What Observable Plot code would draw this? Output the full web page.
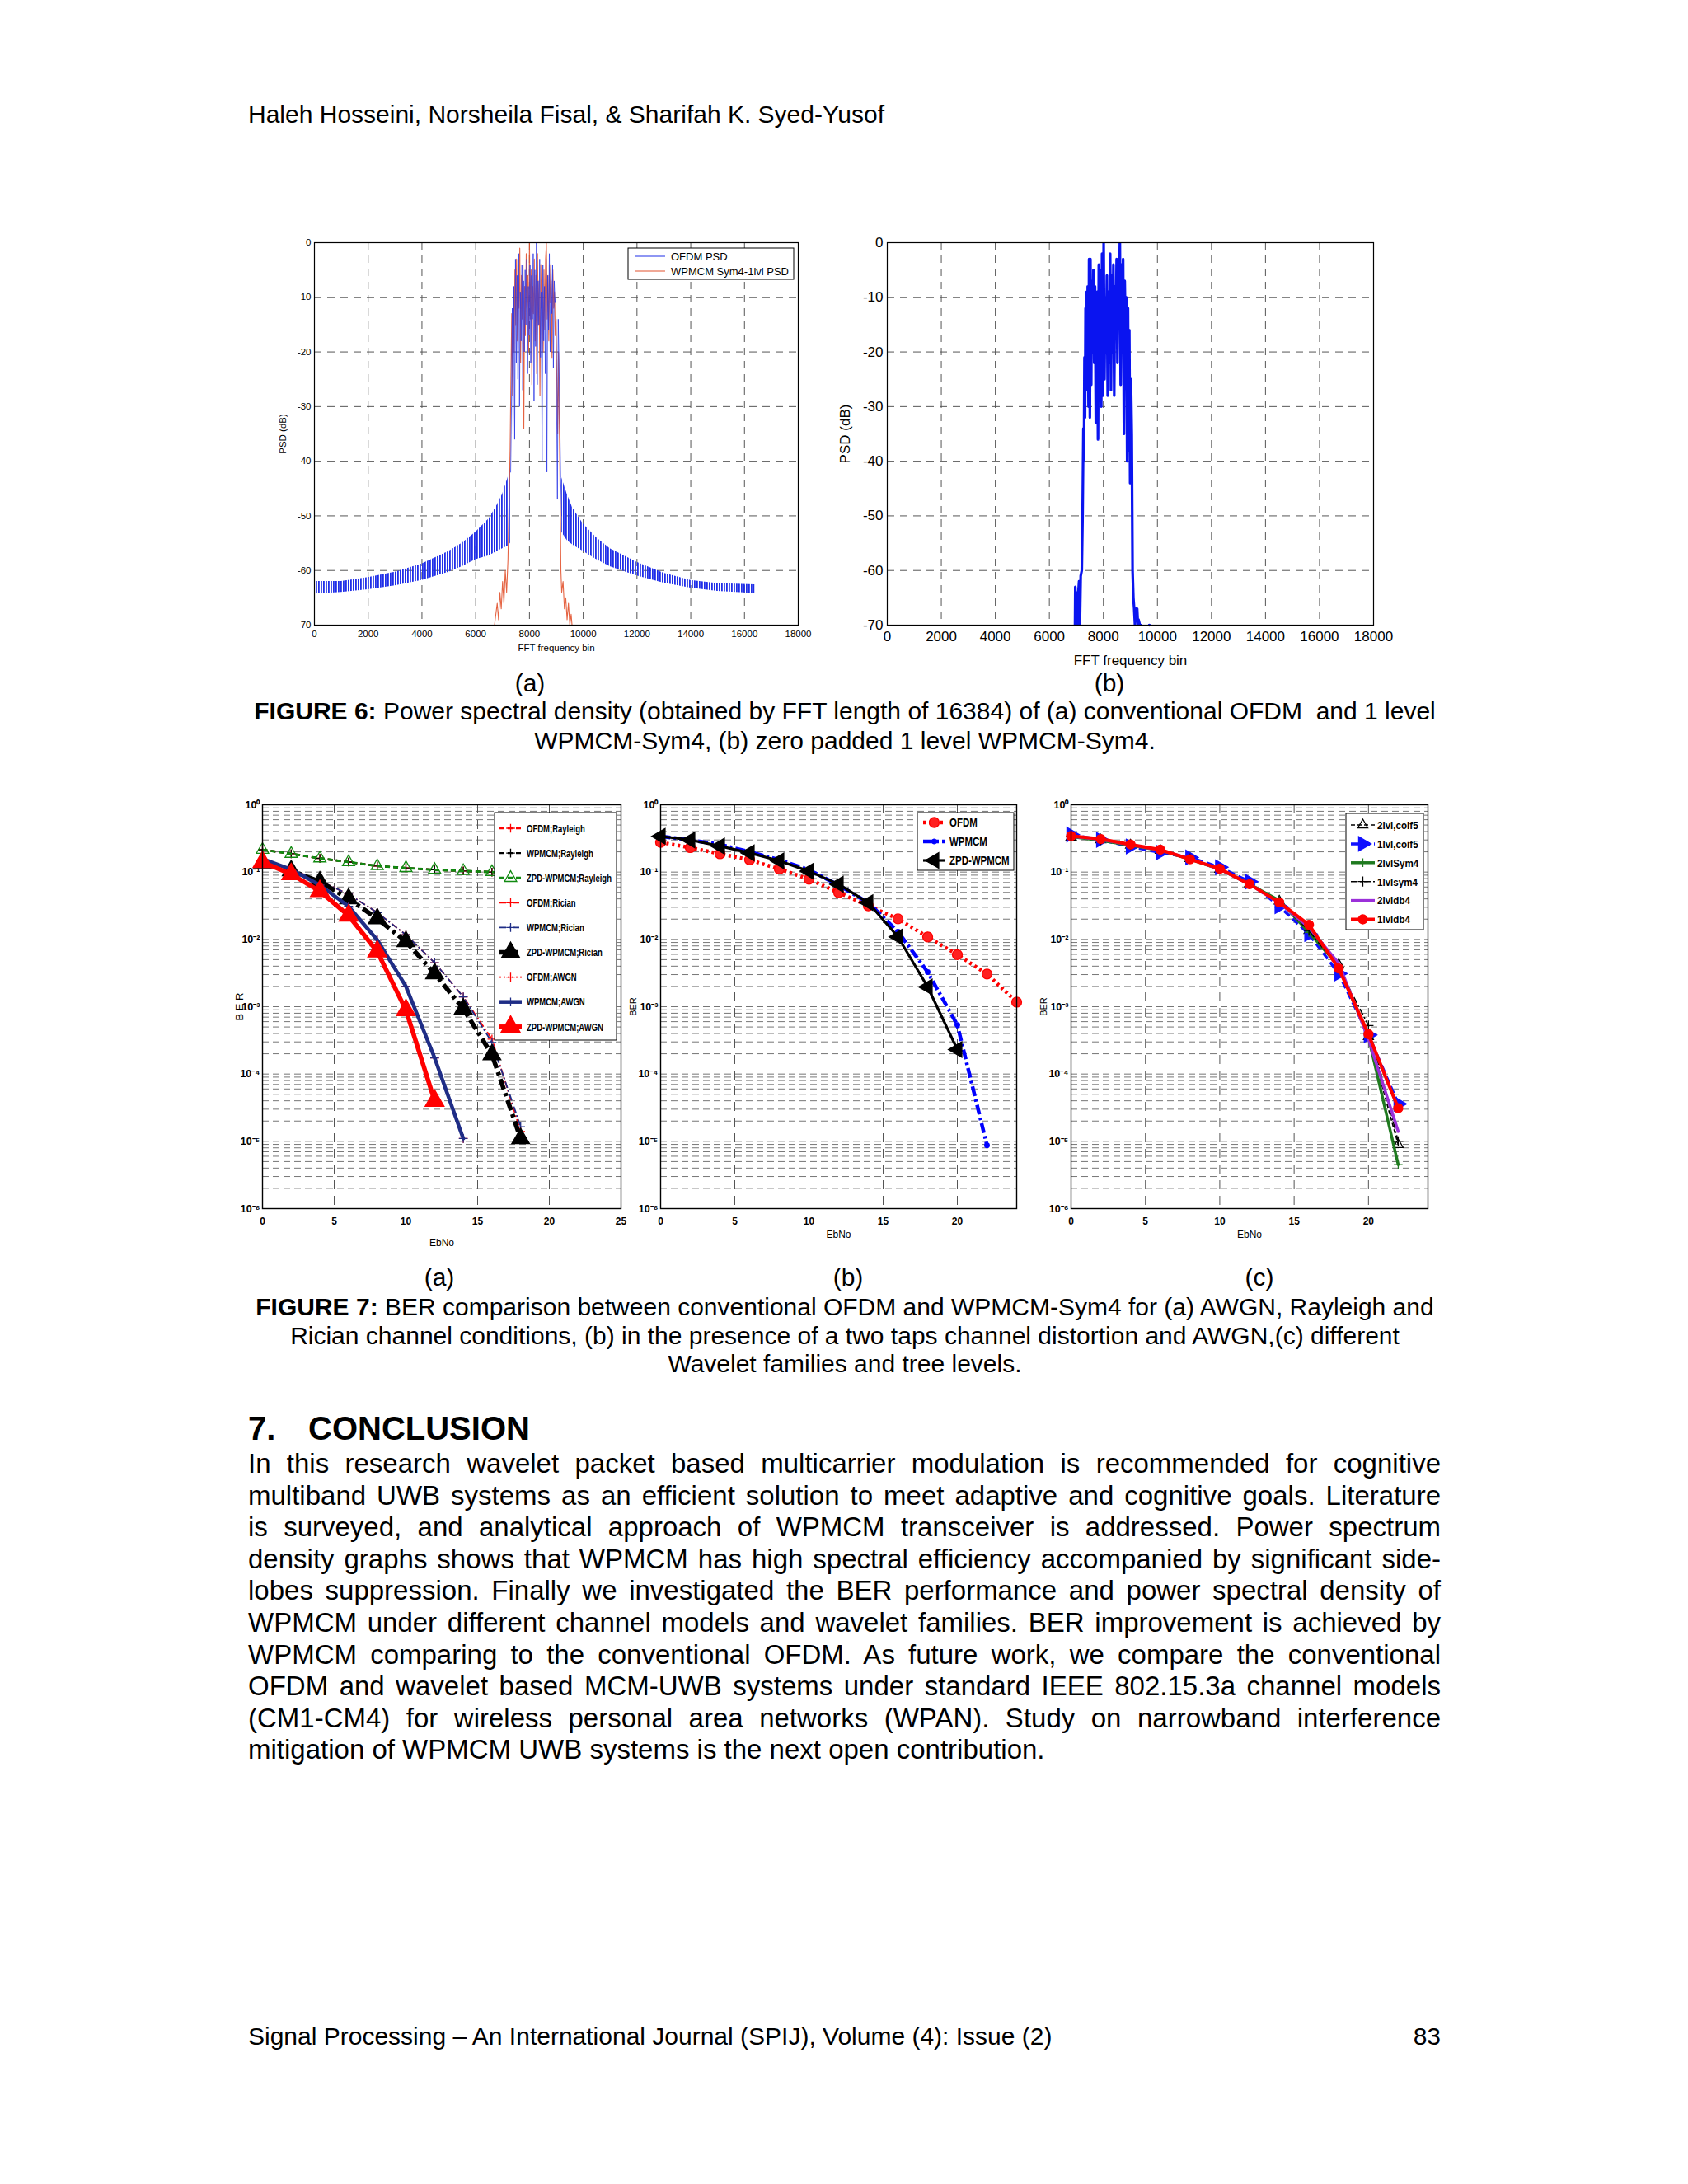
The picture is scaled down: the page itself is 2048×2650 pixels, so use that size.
<!DOCTYPE html>
<html><head><meta charset="utf-8">
<script src="https://cdn.jsdelivr.net/npm/d3@7"></script>
<script src="https://cdn.jsdelivr.net/npm/@observablehq/plot@0.6"></script>
<style>
html,body{margin:0;padding:0;background:#fff;}
#page{position:relative;width:2048px;height:2650px;background:#fff;font-family:"Liberation Sans",Arial,sans-serif;color:#000;overflow:hidden}
.t{position:absolute;white-space:nowrap;line-height:1}
.c{transform:translateX(-50%)}
.cap{position:absolute;left:250px;width:1550px;text-align:center;font-size:30px;white-space:nowrap}
.pl{position:absolute;left:301px;width:1447px;font-size:33px;line-height:38.6px;white-space:nowrap;text-align:justify;text-align-last:justify}
.pl.last{text-align:left;text-align-last:left}
</style></head><body>
<svg width="0" height="0" style="position:absolute"><defs>
<pattern id="lobeHatch" width="3" height="20" patternUnits="userSpaceOnUse"><rect x="0" y="0" width="1.8" height="20" fill="#1f2ee8"/></pattern>
</defs></svg>
<div id="page">
  <div class="t" style="left:301px;top:124px;font-size:30px">Haleh Hosseini, Norsheila Fisal, &amp; Sharifah K. Syed-Yusof</div>
  <div class="t c" style="left:643px;top:814px;font-size:30px">(a)</div>
  <div class="t c" style="left:1346px;top:814px;font-size:30px">(b)</div>
  <div class="cap" style="top:845px;line-height:36px"><b>FIGURE 6:</b> Power spectral density (obtained by FFT length of 16384) of (a) conventional OFDM &nbsp;and 1 level<br>WPMCM-Sym4, (b) zero padded 1 level WPMCM-Sym4.</div>
  <div class="t c" style="left:533px;top:1535px;font-size:30px">(a)</div>
  <div class="t c" style="left:1029px;top:1535px;font-size:30px">(b)</div>
  <div class="t c" style="left:1528px;top:1535px;font-size:30px">(c)</div>
  <div class="cap" style="top:1569px;line-height:34.5px"><b>FIGURE 7:</b> BER comparison between conventional OFDM and WPMCM-Sym4 for (a) AWGN, Rayleigh and<br>Rician channel conditions, (b) in the presence of a two taps channel distortion and AWGN,(c) different<br>Wavelet families and tree levels.</div>
  <div class="t" style="left:301px;top:1713px;font-size:40px;font-weight:bold">7.</div>
  <div class="t" style="left:374px;top:1713px;font-size:40px;font-weight:bold">CONCLUSION</div>
  <div id="para"></div>
  <div class="t" style="left:301px;top:2456px;font-size:30px">Signal Processing – An International Journal (SPIJ), Volume (4): Issue (2)</div>
  <div class="t" style="right:300px;top:2456px;font-size:30px">83</div>
</div>
<script>
// ================= DATA =================
// Figure 6 axes
const psdXTicks = [0,2000,4000,6000,8000,10000,12000,14000,16000,18000];
const psdYTicks = [-70,-60,-50,-40,-30,-20,-10,0];

// Fig 6(a) OFDM PSD side lobes: [bin, upper dB, lower dB]
const ofdmLobeLeft = [[0,-62,-64.3],[1000,-62,-64],[2000,-61.3,-63.5],[3000,-60.3,-62.8],[4000,-58.8,-61.8],[5000,-56.5,-60.3],[5500,-55,-59.3],[6000,-53,-58],[6500,-50.5,-57.3],[6800,-48,-56.5],[7000,-46,-56],[7200,-43,-55.5],[7300,-41,-55]];
const ofdmLobeRight = [[9200,-43,-53],[9400,-46,-54.5],[9600,-48.5,-55.3],[10000,-51.5,-56.5],[10500,-54,-58],[11000,-56,-59.3],[12000,-58.5,-61],[13000,-60.5,-62.3],[14000,-61.8,-63.2],[15000,-62.4,-63.8],[16384,-62.6,-64.2]];
// Fig 6(a) OFDM PSD in-band: [bin, dB]
const ofdmBandA = [[7300,-42],[7330,-30],[7360,-12],[7390,-35],[7420,-8],[7450,-36],[7480,-3],[7510,-22],[7540,-6],[7570,-25],[7600,-2],[7630,-30],[7660,-9],[7690,-18],[7720,-4],[7750,-27],[7780,-7],[7810,-20],[7840,-5],[7870,-15],[7900,-3],[7930,-24],[7960,-8],[7990,-17],[8020,-4],[8050,-22],[8080,-6],[8110,-14],[8140,-2],[8170,-29],[8200,-5],[8230,-19],[8260,0],[8290,-26],[8320,-7],[8350,-15],[8380,-3],[8410,-21],[8440,-9],[8470,-40],[8500,-4],[8530,-18],[8560,-8],[8590,-24],[8620,-3],[8650,-42],[8680,-6],[8710,-16],[8740,-2],[8770,-20],[8800,-5],[8830,-13],[8860,-4],[8890,-23],[8920,-7],[8950,-11],[8980,-10],[9010,-30],[9040,-47],[9070,-14],[9100,-22],[9130,-33],[9160,-43],[9200,-50]];
// Fig 6(a) WPMCM Sym4-1lvl PSD: [bin, dB]
const wpmcmA = [[6700,-70],[6750,-68],[6800,-66],[6850,-69],[6900,-64],[6950,-67],[7000,-62],[7050,-66],[7100,-60],[7150,-64],[7200,-58],[7250,-45],[7280,-38],[7310,-25],[7340,-13],[7370,-28],[7400,-9],[7430,-20],[7460,-5],[7490,-15],[7520,-3],[7550,-18],[7580,-7],[7610,-12],[7640,-1],[7670,-22],[7700,-6],[7730,-14],[7760,-4],[7790,-34],[7820,-8],[7850,-17],[7880,-2],[7910,-12],[7940,-6],[7970,-20],[8000,0],[8030,-14],[8060,-5],[8090,-26],[8120,-8],[8150,-13],[8180,-3],[8210,-18],[8240,-6],[8270,-24],[8300,-2],[8330,-15],[8360,-7],[8390,-28],[8420,-4],[8450,-12],[8480,-9],[8510,-20],[8540,-5],[8570,-16],[8600,-3],[8630,0],[8660,-14],[8690,-6],[8720,-18],[8750,-4],[8780,-11],[8810,-7],[8840,-21],[8870,-5],[8900,-12],[8930,-9],[8960,-17],[8990,-14],[9020,-26],[9050,-35],[9080,-20],[9110,-33],[9140,-45],[9170,-60],[9200,-64],[9250,-62],[9300,-67],[9350,-65],[9400,-69],[9450,-66],[9500,-70],[9550,-68],[9600,-71]];
const psdLegendA = ["OFDM PSD","WPMCM Sym4-1lvl PSD"];
// Fig 6(b) zero padded WPMCM-Sym4 PSD: [bin, dB]
const zpdB = [[6950,-70],[6960,-63],[6990,-70],[7010,-64],[7040,-70],[7060,-65],[7100,-62],[7130,-70],[7160,-61],[7200,-60],[7230,-50],[7260,-34],[7280,-40],[7300,-21],[7320,-32],[7340,-12],[7360,-27],[7380,-9],[7400,-24],[7420,-8],[7450,-30],[7470,-3],[7500,-32],[7520,-3],[7550,-26],[7570,-7],[7600,-20],[7630,-5],[7660,-22],[7690,-8],[7720,-33],[7740,-14],[7770,-9],[7800,-36],[7830,-4],[7860,-17],[7890,-5],[7920,-30],[7950,-2],[7980,-28],[8010,0],[8040,-25],[8070,-10],[8100,-20],[8130,-6],[8160,-28],[8190,-9],[8220,-22],[8250,-2],[8280,-27],[8310,-6],[8340,-20],[8370,-4],[8400,-28],[8430,-8],[8460,-17],[8490,-3],[8520,-22],[8550,-5],[8580,-12],[8610,0],[8640,-26],[8670,-4],[8700,-15],[8730,-3],[8760,-35],[8790,-7],[8820,-18],[8850,-10],[8880,-40],[8910,-12],[8940,-38],[8960,-16],[8990,-44],[9020,-25],[9050,-35],[9080,-60],[9110,-65],[9140,-67],[9170,-70],[9200,-67],[9250,-67],[9280,-70],[9300,-69],[9350,-70],[9400,-70]];
const zpdBDot = [[9700,-70]];

// Figure 7 axes
const berYTicks = [1e-6,1e-5,1e-4,1e-3,1e-2,1e-1,1];
const berXTicks25 = [0,5,10,15,20,25];
const berXTicks20 = [0,5,10,15,20];

// Fig 7(a)
const ebno7a = [0,2,4,6,8,10,12,14,16,18];
const ber7aOfdmRayleigh  = [0.215,0.187,0.16,0.141,0.123,0.115,0.108,0.104,0.100,0.097];
const ber7aWpmcmRayleigh = [0.215,0.187,0.16,0.141,0.123,0.115,0.108,0.104,0.100,0.097];
const ber7aZpdRayleigh   = [0.215,0.187,0.16,0.141,0.123,0.115,0.108,0.104,0.100,0.097];
const ber7aOfdmRician    = [0.149,0.110,0.074,0.047,0.025,0.0117,0.0045,0.0014,0.00033,0.000014];
const ber7aWpmcmRician   = [0.149,0.110,0.074,0.047,0.025,0.0117,0.0045,0.0014,0.000295,0.0000165];
const ber7aZpdRician     = [0.137,0.105,0.0716,0.0402,0.0203,0.0093,0.0031,0.00093,0.000194,0.000011];
const ber7aOfdmAwgn      = [0.157,0.109,0.064,0.031,0.0098,0.002,0.000174,0.000011];
const ber7aWpmcmAwgn     = [0.157,0.109,0.064,0.031,0.0098,0.002,0.000174,0.000011];
const ber7aZpdAwgn       = [0.141,0.093,0.052,0.0226,0.0066,0.00089,0.00004];

// Fig 7(b)
const ebno7b = [0,2,4,6,8,10,12,14,16,18,20,22,24];
const ber7bOfdm  = [0.276,0.231,0.187,0.152,0.111,0.0785,0.0496,0.0316,0.0202,0.0109,0.00593,0.00306,0.00117];
const ber7bWpmcm = [0.34,0.30,0.257,0.2,0.152,0.108,0.0638,0.0351,0.013,0.00327,0.000536,0.0000087];
const ber7bZpd   = [0.34,0.30,0.243,0.193,0.147,0.103,0.066,0.0351,0.0109,0.00197,0.000231];

// Fig 7(c)
const ebno7c = [0,2,4,6,8,10,12,14,16,18,20,22];
const ber7c2lvlCoif5 = [0.33,0.30,0.25,0.21,0.158,0.11,0.067,0.037,0.0135,0.0042,0.00036,0.0000089];
const ber7c1lvlCoif5 = [0.36,0.30,0.24,0.195,0.165,0.118,0.072,0.031,0.012,0.0031,0.00038,0.000036];
const ber7c2lvlSym4  = [0.335,0.295,0.25,0.21,0.155,0.11,0.066,0.038,0.0127,0.004,0.00035,0.0000045];
const ber7c1lvlSym4  = [0.34,0.30,0.255,0.21,0.158,0.112,0.068,0.036,0.0135,0.0038,0.000525,0.000010];
const ber7c2lvlDb4   = [0.34,0.305,0.255,0.212,0.158,0.11,0.066,0.035,0.015,0.0044,0.00033,0.000014];
const ber7c1lvlDb4   = [0.344,0.31,0.257,0.215,0.155,0.112,0.066,0.0355,0.0165,0.0037,0.00039,0.000031];

// Conclusion text lines
const paraLines = [
"In this research wavelet packet based multicarrier modulation is recommended for cognitive",
"multiband UWB systems as an efficient solution to meet adaptive and cognitive goals. Literature",
"is surveyed, and analytical approach of WPMCM transceiver is addressed. Power spectrum",
"density graphs shows that WPMCM has high spectral efficiency accompanied by significant side-",
"lobes suppression. Finally we investigated the BER performance and power spectral density of",
"WPMCM under different channel models and wavelet families. BER improvement is achieved by",
"WPMCM comparing to the conventional OFDM. As future work, we compare the conventional",
"OFDM and wavelet based MCM-UWB systems under standard IEEE 802.15.3a channel models",
"(CM1-CM4) for wireless personal area networks (WPAN). Study on narrowband interference",
"mitigation of WPMCM UWB systems is the next open contribution."];

// ================= RENDER =================
const FONT = '"Liberation Sans", Arial, sans-serif';
const page = document.getElementById("page");
function place(node, left, top) {
  const d = document.createElement("div");
  d.style.position = "absolute"; d.style.left = left + "px"; d.style.top = top + "px";
  d.appendChild(node); page.appendChild(d);
}
paraLines.forEach((l, i) => {
  const d = document.createElement("div");
  d.className = "pl" + (i === paraLines.length - 1 ? " last" : "");
  d.style.top = (1757 + i * 38.6) + "px";
  d.textContent = l;
  page.appendChild(d);
});

const symbolMap = {triangle: d3.symbolTriangle, plus: d3.symbolPlus, circle: d3.symbolCircle};
const sup = {"-":"⁻","0":"⁰","1":"¹","2":"²","3":"³","4":"⁴","5":"⁵","6":"⁶","7":"⁷","8":"⁸","9":"⁹"};
const decFmt = d => "10" + String(Math.round(Math.log10(d))).split("").map(c => sup[c]).join("");
const berMinor = [];
for (let k = -6; k <= -1; k++) for (let m = 1; m <= 9; m++) if (!(k === -6 && m === 1)) berMinor.push(m * Math.pow(10, k));

// ---------- Figure 6(a) ----------
(function () {
  const lobeL = ofdmLobeLeft.map(([bin, hi, lo]) => ({bin, hi, lo}));
  const lobeR = ofdmLobeRight.map(([bin, hi, lo]) => ({bin, hi, lo}));
  const band = ofdmBandA.map(([bin, db]) => ({bin, db}));
  const wp = wpmcmA.map(([bin, db]) => ({bin, db}));
  const svg = Plot.plot({
    width: 668, height: 548, marginLeft: 61, marginRight: 20, marginTop: 24, marginBottom: 60,
    style: {fontFamily: FONT, fontSize: "11.5px", background: "transparent", color: "#000"},
    x: {domain: [0, 18000]}, y: {domain: [-70, 0]},
    marks: [
      Plot.ruleX(psdXTicks.filter(t => t > 0 && t < 18000), {stroke: "#555", strokeWidth: 1, strokeDasharray: "9,7"}),
      Plot.ruleY(psdYTicks.filter(t => t > -70 && t < 0), {stroke: "#555", strokeWidth: 1, strokeDasharray: "9,7"}),
      Plot.areaY(lobeL, {x: "bin", y1: "lo", y2: "hi", fill: "url(#lobeHatch)"}),
      Plot.areaY(lobeR, {x: "bin", y1: "lo", y2: "hi", fill: "url(#lobeHatch)"}),
      Plot.line(wp, {x: "bin", y: "db", stroke: "#e2532f", strokeWidth: 1.1, strokeOpacity: 0.9, clip: true}),
      Plot.line(band, {x: "bin", y: "db", stroke: "#2a36e6", strokeWidth: 0.9, strokeOpacity: 0.85}),
      Plot.frame({stroke: "#000", strokeWidth: 1.2}),
      Plot.axisX({ticks: psdXTicks, tickFormat: d => String(d), tickSize: 0, tickPadding: 6, label: "FFT frequency bin", labelArrow: false, labelAnchor: "center", labelOffset: 31}),
      Plot.axisY({ticks: psdYTicks, tickFormat: d => String(d), tickSize: 0, tickPadding: 4, label: "PSD (dB)", labelArrow: false, labelAnchor: "center", labelOffset: 43})
    ]
  });
  const colors = ["#1f2ee8", "#e2532f"];
  const g = d3.select(svg).append("g").attr("font-family", FONT).attr("font-size", 13).attr("text-anchor", "start");
  g.append("rect").attr("x", 442).attr("y", 31).attr("width", 201).attr("height", 38).attr("fill", "#fff").attr("stroke", "#000").attr("stroke-width", 1);
  psdLegendA.forEach((name, i) => {
    const cy = 41 + i * 18;
    g.append("line").attr("x1", 451).attr("x2", 487).attr("y1", cy).attr("y2", cy).attr("stroke", colors[i]).attr("stroke-width", 1.1);
    g.append("text").attr("x", 494).attr("y", cy).attr("dy", "0.35em").attr("text-anchor", "start").attr("fill", "#000").text(name);
  });
  place(svg, 320, 270);
})();

// ---------- Figure 6(b) ----------
(function () {
  const zp = zpdB.map(([bin, db]) => ({bin, db}));
  const dot = zpdBDot.map(([bin, db]) => ({bin, db}));
  const svg = Plot.plot({
    width: 686, height: 548, marginLeft: 71, marginRight: 25, marginTop: 24, marginBottom: 60,
    style: {fontFamily: FONT, fontSize: "17px", background: "transparent", color: "#000"},
    x: {domain: [0, 18000]}, y: {domain: [-70, 0]},
    marks: [
      Plot.ruleX(psdXTicks.filter(t => t > 0 && t < 18000), {stroke: "#555", strokeWidth: 1, strokeDasharray: "9,7"}),
      Plot.ruleY(psdYTicks.filter(t => t > -70 && t < 0), {stroke: "#555", strokeWidth: 1, strokeDasharray: "9,7"}),
      Plot.line(zp, {x: "bin", y: "db", stroke: "#0a14f0", strokeWidth: 3.2, clip: true}),
      Plot.dot(dot, {x: "bin", y: "db", r: 1.8, fill: "#0a14f0"}),
      Plot.frame({stroke: "#000", strokeWidth: 1.2}),
      Plot.axisX({ticks: psdXTicks, tickFormat: d => String(d), tickSize: 0, tickPadding: 7, label: "FFT frequency bin", labelArrow: false, labelAnchor: "center", labelOffset: 48}),
      Plot.axisY({ticks: psdYTicks, tickFormat: d => String(d), tickSize: 0, tickPadding: 5, label: "PSD (dB)", labelArrow: false, labelAnchor: "center", labelOffset: 58})
    ]
  });
  place(svg, 1005, 270);
})();

// ---------- Figure 7 helper ----------
function berChart({series, xmax, xticks, mLeft, frameW, ylabel, ylabelFs, yOff, xOff, legend}) {
  const marks = [
    Plot.ruleY(berMinor, {stroke: "#666", strokeWidth: 0.9, strokeDasharray: "8,5"}),
    Plot.ruleX(xticks.filter(t => t > 0 && t < xmax), {stroke: "#555", strokeWidth: 1, strokeDasharray: "11,8"})
  ];
  for (const s of series) {
    const data = s.y.map((v, i) => ({x: s.x[i], y: v}));
    marks.push(Plot.line(data, {x: "x", y: "y", stroke: s.color, strokeWidth: s.width, strokeDasharray: s.dash || undefined, strokeLinecap: s.dash ? "butt" : "round"}));
    if (s.symbol) marks.push(Plot.dot(data, {x: "x", y: "y", symbol: s.symbol, r: s.r, fill: s.fill, stroke: s.color, strokeWidth: s.mw || 1.3, rotate: s.rotate || 0}));
  }
  marks.push(
    Plot.frame({stroke: "#000", strokeWidth: 1.4}),
    Plot.axisX({ticks: xticks, tickFormat: d => String(d), tickSize: 0, tickPadding: 11, fontWeight: "bold", fontSize: 12, label: null}),
    Plot.axisX({ticks: [], label: "EbNo", labelArrow: false, labelAnchor: "center", labelOffset: xOff, fontSize: 12}),
    Plot.axisY({ticks: berYTicks, tickFormat: decFmt, tickSize: 0, tickPadding: 3, fontWeight: "bold", fontSize: 12.5, label: null}),
    Plot.axisY({ticks: [], label: ylabel, labelArrow: false, labelAnchor: "center", labelOffset: yOff, fontSize: ylabelFs})
  );
  const svg = Plot.plot({
    width: mLeft + frameW + 15, height: 571, marginLeft: mLeft, marginRight: 15, marginTop: 26, marginBottom: 55,
    style: {fontFamily: FONT, fontSize: "12px", background: "transparent", color: "#000"},
    x: {domain: [0, xmax]},
    y: {type: "log", domain: [1e-6, 1]},
    marks
  });
  const L = legend;
  const g = d3.select(svg).append("g").attr("font-family", FONT).attr("text-anchor", "start");
  g.append("rect").attr("x", L.x).attr("y", L.y).attr("width", L.w).attr("height", L.h).attr("fill", "#fff").attr("stroke", "#000").attr("stroke-width", 1);
  series.forEach((s, i) => {
    const cy = L.row0 + i * L.dy;
    g.append("line").attr("x1", L.lx0).attr("x2", L.lx1).attr("y1", cy).attr("y2", cy)
      .attr("stroke", s.color).attr("stroke-width", s.width).attr("stroke-dasharray", s.dash || null);
    if (s.symbol) g.append("path").attr("transform", `translate(${(L.lx0 + L.lx1) / 2},${cy}) rotate(${s.rotate || 0})`)
      .attr("d", d3.symbol(symbolMap[s.symbol], Math.PI * s.r * s.r)())
      .attr("fill", s.fill).attr("stroke", s.color).attr("stroke-width", s.mw || 1.3);
    g.append("text").attr("transform", `translate(${L.tx},${cy}) scale(${L.sx},1)`).attr("dy", "0.36em").attr("text-anchor", "start")
      .attr("font-size", L.fs).attr("font-weight", "bold").attr("fill", "#000").text(s.name);
  });
  return svg;
}

// ---------- Figure 7(a) ----------
place(berChart({
  series: [
    {name: "OFDM;Rayleigh", x: ebno7a, y: ber7aOfdmRayleigh, color: "#ff0000", width: 2.4, dash: "6,4", symbol: "plus", r: 3.5, fill: "none"},
    {name: "WPMCM;Rayleigh", x: ebno7a, y: ber7aWpmcmRayleigh, color: "#000000", width: 2.4, dash: "6,4", symbol: "plus", r: 3.5, fill: "none"},
    {name: "ZPD-WPMCM;Rayleigh", x: ebno7a, y: ber7aZpdRayleigh, color: "#118a11", width: 2.8, dash: "6,4", symbol: "triangle", r: 5.5, fill: "none"},
    {name: "OFDM;Rician", x: ebno7a, y: ber7aOfdmRician, color: "#ff0000", width: 1.8, dash: "8,3,2,3", symbol: "plus", r: 3.5, fill: "none"},
    {name: "WPMCM;Rician", x: ebno7a, y: ber7aWpmcmRician, color: "#1f2d86", width: 1.8, dash: "8,3,2,3", symbol: "plus", r: 3.5, fill: "none"},
    {name: "ZPD-WPMCM;Rician", x: ebno7a, y: ber7aZpdRician, color: "#000000", width: 5.5, dash: "13,5,4,5", symbol: "triangle", r: 8, fill: "#000"},
    {name: "OFDM;AWGN", x: ebno7a, y: ber7aOfdmAwgn, color: "#ff0000", width: 1.8, dash: "2,3", symbol: "plus", r: 3.5, fill: "none"},
    {name: "WPMCM;AWGN", x: ebno7a, y: ber7aWpmcmAwgn, color: "#1f2d86", width: 4.5, dash: null, symbol: "plus", r: 3.5, fill: "none"},
    {name: "ZPD-WPMCM;AWGN", x: ebno7a, y: ber7aZpdAwgn, color: "#ff0000", width: 5.5, dash: null, symbol: "triangle", r: 8.5, fill: "#ff0000"}
  ],
  xmax: 25, xticks: berXTicks25, mLeft: 48, frameW: 435, ylabel: "B E R", ylabelFs: 13, yOff: 33, xOff: 45,
  legend: {x: 330, y: 36, w: 148, h: 276, row0: 55, dy: 30.1, lx0: 336, lx1: 363, tx: 369, sx: 0.72, fs: 13.2}
}), 270, 950);

// ---------- Figure 7(b) ----------
place(berChart({
  series: [
    {name: "OFDM", x: ebno7b, y: ber7bOfdm, color: "#ff0000", width: 4.5, dash: "3,4", symbol: "circle", r: 6, fill: "#ff2020"},
    {name: "WPMCM", x: ebno7b, y: ber7bWpmcm, color: "#0000ff", width: 4.5, dash: "12,4,3,4", symbol: "circle", r: 2.8, fill: "#0000ff"},
    {name: "ZPD-WPMCM", x: ebno7b, y: ber7bZpd, color: "#000000", width: 3.2, dash: null, symbol: "triangle", r: 7, fill: "#000", rotate: -90}
  ],
  xmax: 24, xticks: berXTicks20, mLeft: 46, frameW: 432, ylabel: "BER", ylabelFs: 11, yOff: 37, xOff: 35,
  legend: {x: 358, y: 36, w: 117, h: 70, row0: 48, dy: 23, lx0: 365, lx1: 392, tx: 397, sx: 0.82, fs: 14}
}), 755, 950);

// ---------- Figure 7(c) ----------
place(berChart({
  series: [
    {name: "2lvl,coif5", x: ebno7c, y: ber7c2lvlCoif5, color: "#000000", width: 1.6, dash: "5,3", symbol: "triangle", r: 4.5, fill: "none"},
    {name: "1lvl,coif5", x: ebno7c, y: ber7c1lvlCoif5, color: "#1010ff", width: 3.5, dash: "9,5", symbol: "triangle", r: 6.5, fill: "#1010ff", rotate: 90},
    {name: "2lvlSym4", x: ebno7c, y: ber7c2lvlSym4, color: "#1f7a1f", width: 3.5, dash: null, symbol: "plus", r: 3.5, fill: "none"},
    {name: "1lvlsym4", x: ebno7c, y: ber7c1lvlSym4, color: "#000000", width: 1.6, dash: "8,3,2,3", symbol: "plus", r: 4, fill: "none"},
    {name: "2lvldb4", x: ebno7c, y: ber7c2lvlDb4, color: "#9b30d9", width: 3.5, dash: null},
    {name: "1lvldb4", x: ebno7c, y: ber7c1lvlDb4, color: "#ff0000", width: 4, dash: null, symbol: "circle", r: 5.5, fill: "#ff0000"}
  ],
  xmax: 24, xticks: berXTicks20, mLeft: 46, frameW: 433, ylabel: "BER", ylabelFs: 11, yOff: 37, xOff: 35,
  legend: {x: 380, y: 37, w: 94, h: 141, row0: 51, dy: 22.9, lx0: 386, lx1: 415, tx: 418, sx: 0.86, fs: 13.5}
}), 1253, 950);
</script>
</body></html>
